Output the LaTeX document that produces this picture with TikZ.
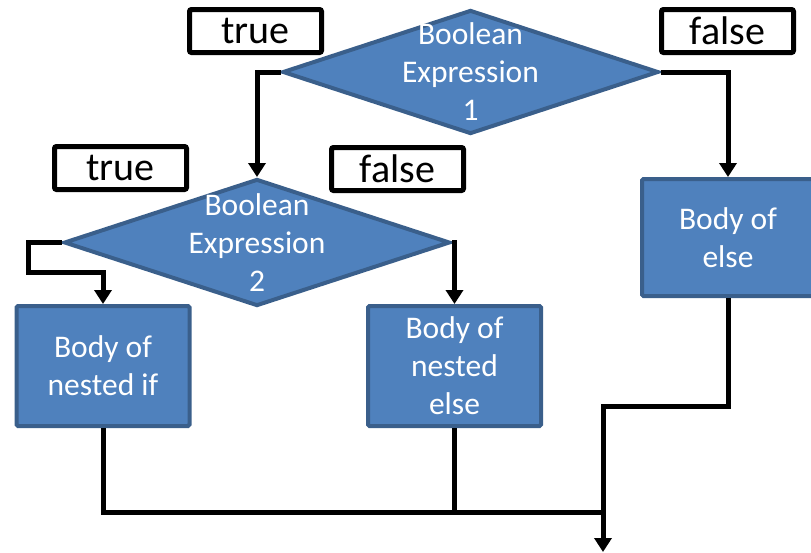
\documentclass[tikz,border=0pt]{standalone}
\usepackage{fontspec}
\setmainfont{Carlito}
\usetikzlibrary{shapes.geometric,arrows.meta}
\definecolor{boxfill}{HTML}{4F81BD}
\definecolor{boxline}{HTML}{3A5F8B}
\begin{document}
\begin{tikzpicture}[x=1pt,y=-1pt,
  dec/.style={shape=diamond,draw=boxline,fill=boxfill,line width=4pt,inner sep=0pt},
  bodybox/.style={rectangle,draw=boxline,fill=boxfill,line width=4pt,rounded corners=1.5pt,inner sep=0pt},
  btext/.style={text=white,align=center,font=\fontsize{31.5}{38}\selectfont},
  lbl/.style={rectangle,draw=black,fill=white,line width=5pt,rounded corners=2pt,inner sep=0pt,minimum width=132pt,minimum height=43pt,font=\fontsize{40}{44}\selectfont},
  conn/.style={draw=black,line width=5pt},
  arr/.style={conn,-{Triangle[width=17pt,length=14pt]}}]
\useasboundingbox (0,0) rectangle (811,552);
% decisions
\node[dec,minimum width=376pt,minimum height=124pt] (d1) at (470.5,72) {};
\node[btext] (d1t) at (470.5,72) {Boolean\\Expression\\1};
\node[dec,minimum width=386pt,minimum height=127pt] (d2) at (257,242.5) {};
\node[btext] (d2t) at (257,242.5) {Boolean\\Expression\\2};
% bodies
\node[bodybox,minimum width=173pt,minimum height=120pt] (nif) at (103,366) {};
\node[btext] (nift) at (103,366) {Body of\\nested if};
\node[bodybox,minimum width=173pt,minimum height=120pt] (nelse) at (454.5,366) {};
\node[btext] (nelset) at (454.5,366) {Body of\\nested\\else};
\node[bodybox,minimum width=172pt,minimum height=117pt] (else) at (728,237.5) {};
\node[btext] (elset) at (728,237.5) {Body of\\else};
% labels
\node[lbl] (t1) at (255.5,31) {true};
\node[lbl] (f1) at (727.5,31) {false};
\node[lbl] (t2) at (120.5,168) {true};
\node[lbl] (f2) at (397.5,169) {false};
% junctions
\coordinate (j1) at (28,272);
\coordinate (m) at (603,512);
\coordinate (k) at (603,406);
\coordinate (endp) at (603,552);
% connectors
\draw[arr] (d1.west) -| (d2.north);
\draw[arr] (d1.east) -| (else.north);
\draw[arr] (d2.west) -| (j1) -| (nif.north);
\draw[arr] (d2.east) -| (nelse.north);
\draw[conn] (nif.south) |- (m);
\draw[conn] (nelse.south) |- (m);
\draw[arr] (else.south) |- (k) -- (endp);
\end{tikzpicture}
\end{document}
